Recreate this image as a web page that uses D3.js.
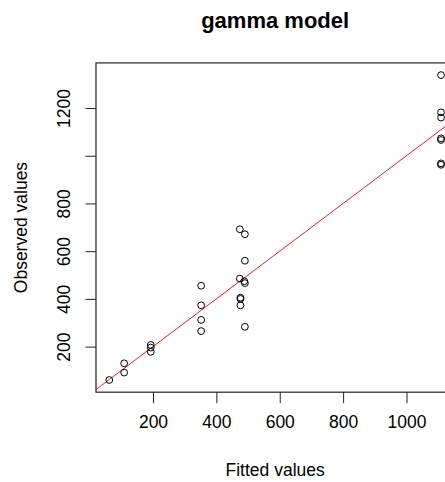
<!DOCTYPE html>
<html lang="en">
<head>
<meta charset="utf-8">
<title>gamma model</title>
<style>
  body { margin: 0; background: #fff; overflow: hidden; }
  text { font-family: Arial, "Liberation Sans", sans-serif; fill: #000; }
</style>
</head>
<body>
<div id="chart"></div>
<script src="https://cdn.jsdelivr.net/npm/d3@7"></script>
<script>
var fitted = [62, 109, 109, 193, 193, 193,
              352, 352, 352, 352,
              474, 490, 490, 474, 488, 490, 476, 476, 476, 490,
              1109, 1109, 1109, 1109, 1109, 1109, 1109];
var observed = [60, 130, 91, 207, 196, 178,
                455, 373, 312, 265,
                692, 671, 560, 485, 474, 466, 405, 400, 373, 283,
                1338, 1182, 1160, 1073, 1066, 968, 962];
var xTicks = [200, 400, 600, 800, 1000];
var yTicks = [200, 400, 600, 800, 1000, 1200];
var yTickLabels = ["200", "400", "600", "800", "", "1200"]; // 1000 dropped, overlaps

var W = 445, H = 482;
// note: "top" is reserved on window, so use plot* names
var plotL = 96, plotR = 454.3, plotT = 62.9, plotB = 392.2;

// R style 4% padding around the data range
function pad(ext) {
  var d = (ext[1] - ext[0]) * 0.04;
  return [ext[0] - d, ext[1] + d];
}

var x = d3.scaleLinear().domain(pad(d3.extent(fitted))).range([plotL, plotR]);
var y = d3.scaleLinear().domain(pad(d3.extent(observed))).range([plotB, plotT]);

var svg = d3.select("#chart").append("svg")
    .attr("width", W)
    .attr("height", H);

svg.append("clipPath").attr("id", "plotclip")
  .append("rect")
    .attr("x", plotL).attr("y", plotT)
    .attr("width", plotR - plotL).attr("height", plotB - plotT);

// y = x reference line
var lo = Math.max(x.domain()[0], y.domain()[0]) - 50,
    hi = Math.min(x.domain()[1], y.domain()[1]) + 50;
svg.append("line")
    .attr("clip-path", "url(#plotclip)")
    .attr("x1", x(lo)).attr("y1", y(lo))
    .attr("x2", x(hi)).attr("y2", y(hi))
    .style("stroke", "#e0202a")
    .style("stroke-width", 1);

// points
svg.append("g").selectAll("circle")
    .data(fitted)
    .enter().append("circle")
    .attr("cx", function(d) { return x(d); })
    .attr("cy", function(d, i) { return y(observed[i]); })
    .attr("r", 3.4)
    .style("fill", "none")
    .style("stroke", "#000")
    .style("stroke-width", 1);

// box
svg.append("rect")
    .attr("x", plotL).attr("y", plotT)
    .attr("width", plotR - plotL).attr("height", plotB - plotT)
    .style("fill", "none")
    .style("stroke", "#333")
    .style("stroke-width", 1.3);

// x axis
var xAxis = d3.axisBottom(x).tickValues(xTicks).tickSize(11).tickPadding(12)
    .tickFormat(d3.format("d"));
var gx = svg.append("g")
    .attr("transform", "translate(0," + plotB + ")")
    .call(xAxis);
gx.select(".domain").remove();
gx.selectAll("line").style("stroke", "#222");
gx.selectAll("text")
    .style("font-size", "17.5px")
    .style("font-family", "Arial, 'Liberation Sans', sans-serif")
    .attr("fill", "#222");

// y axis (labels parallel to axis, like R)
var yAxis = d3.axisLeft(y).tickValues(yTicks).tickSize(10.5)
    .tickFormat(function(d, i) { return yTickLabels[i]; });
var gy = svg.append("g")
    .attr("transform", "translate(" + plotL + ",0)")
    .call(yAxis);
gy.select(".domain").remove();
gy.selectAll("line").style("stroke", "#222");
gy.selectAll("text")
    .attr("x", null).attr("dy", null)
    .attr("transform", "translate(-26.5,0) rotate(-90)")
    .attr("text-anchor", "middle")
    .attr("fill", "#222")
    .style("font-size", "17.5px")
    .style("font-family", "Arial, 'Liberation Sans', sans-serif");

// titles
svg.append("text")
    .attr("x", (plotL + plotR) / 2).attr("y", 27.5)
    .attr("text-anchor", "middle")
    .style("font-size", "22px")
    .style("font-weight", "bold")
    .attr("fill", "#111")
    .text("gamma model");

svg.append("text")
    .attr("x", (plotL + plotR) / 2).attr("y", 476)
    .attr("text-anchor", "middle")
    .style("font-size", "17.5px")
    .attr("fill", "#222")
    .text("Fitted values");

svg.append("text")
    .attr("transform", "translate(27," + ((plotT + plotB) / 2) + ") rotate(-90)")
    .attr("text-anchor", "middle")
    .style("font-size", "17.5px")
    .attr("fill", "#222")
    .text("Observed values");
</script>
</body>
</html>
